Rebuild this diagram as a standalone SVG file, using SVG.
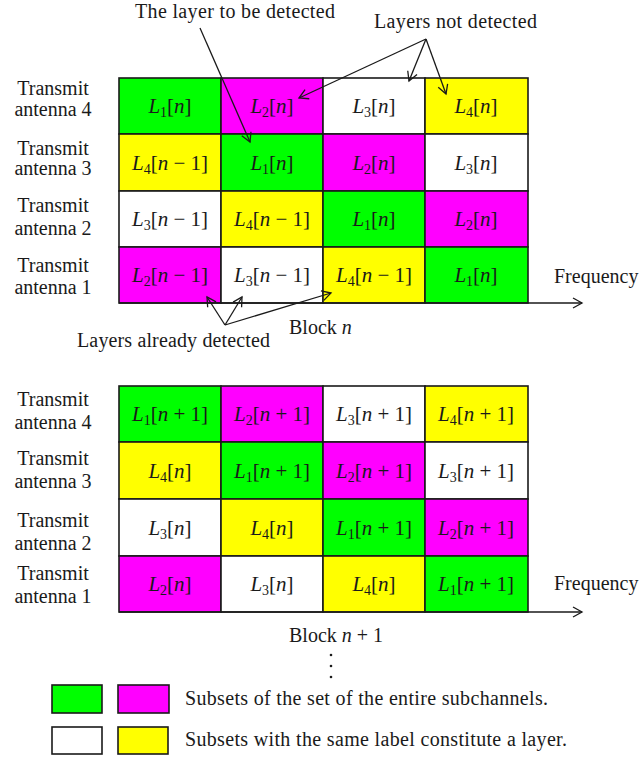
<svg xmlns="http://www.w3.org/2000/svg" width="643" height="759" viewBox="0 0 643 759">
<style>
text{font-family:"Liberation Serif","Times New Roman",serif;fill:#1a1a1a}
.lab{font-size:20px;text-anchor:middle}
.c{font-size:21px;text-anchor:middle}
.i{font-style:italic}
.s{font-size:14px}
.t{font-size:20px}
.g{fill:#00ff00}.m{fill:#ff00ff}.y{fill:#ffff00}.w{fill:#ffffff}
rect{stroke:#1a1a1a;stroke-width:1.6}
.ln{stroke:#1a1a1a;stroke-width:1.3;fill:none}
</style>
<defs>
<marker id="ah" markerUnits="userSpaceOnUse" markerWidth="14" markerHeight="14" refX="11" refY="7" orient="auto">
<path d="M2,2 L11,7 L2,12" fill="none" stroke="#1a1a1a" stroke-width="1.3"/>
</marker>
</defs>

<!-- Top block labels -->
<g id="labels-top">
<text class="lab" x="53" y="95">Transmit</text><text class="lab" x="53" y="116">antenna 4</text>
<text class="lab" x="53" y="155">Transmit</text><text class="lab" x="53" y="175">antenna 3</text>
<text class="lab" x="53" y="212">Transmit</text><text class="lab" x="53" y="235">antenna 2</text>
<text class="lab" x="53" y="272">Transmit</text><text class="lab" x="53" y="294">antenna 1</text>
</g>

<!-- Top grid, row antenna 4 -->
<g id="t-r4-c1"><rect class="g" x="119" y="78" width="102" height="56"/><text class="c" x="170" y="113"><tspan class="i">L</tspan><tspan class="s" dy="4">1</tspan><tspan dy="-4">[</tspan><tspan class="i">n</tspan>]</text></g>
<g id="t-r4-c2"><rect class="m" x="221" y="78" width="102" height="56"/><text class="c" x="272" y="113"><tspan class="i">L</tspan><tspan class="s" dy="4">2</tspan><tspan dy="-4">[</tspan><tspan class="i">n</tspan>]</text></g>
<g id="t-r4-c3"><rect class="w" x="323" y="78" width="102" height="56"/><text class="c" x="374" y="113"><tspan class="i">L</tspan><tspan class="s" dy="4">3</tspan><tspan dy="-4">[</tspan><tspan class="i">n</tspan>]</text></g>
<g id="t-r4-c4"><rect class="y" x="425" y="78" width="103" height="56"/><text class="c" x="476" y="113"><tspan class="i">L</tspan><tspan class="s" dy="4">4</tspan><tspan dy="-4">[</tspan><tspan class="i">n</tspan>]</text></g>
<!-- row antenna 3 -->
<g id="t-r3-c1"><rect class="y" x="119" y="134" width="102" height="57"/><text class="c" x="170" y="170"><tspan class="i">L</tspan><tspan class="s" dy="4">4</tspan><tspan dy="-4">[</tspan><tspan class="i">n</tspan> − 1]</text></g>
<g id="t-r3-c2"><rect class="g" x="221" y="134" width="102" height="57"/><text class="c" x="272" y="170"><tspan class="i">L</tspan><tspan class="s" dy="4">1</tspan><tspan dy="-4">[</tspan><tspan class="i">n</tspan>]</text></g>
<g id="t-r3-c3"><rect class="m" x="323" y="134" width="102" height="57"/><text class="c" x="374" y="170"><tspan class="i">L</tspan><tspan class="s" dy="4">2</tspan><tspan dy="-4">[</tspan><tspan class="i">n</tspan>]</text></g>
<g id="t-r3-c4"><rect class="w" x="425" y="134" width="103" height="57"/><text class="c" x="476" y="170"><tspan class="i">L</tspan><tspan class="s" dy="4">3</tspan><tspan dy="-4">[</tspan><tspan class="i">n</tspan>]</text></g>
<!-- row antenna 2 -->
<g id="t-r2-c1"><rect class="w" x="119" y="191" width="102" height="56"/><text class="c" x="170" y="226"><tspan class="i">L</tspan><tspan class="s" dy="4">3</tspan><tspan dy="-4">[</tspan><tspan class="i">n</tspan> − 1]</text></g>
<g id="t-r2-c2"><rect class="y" x="221" y="191" width="102" height="56"/><text class="c" x="272" y="226"><tspan class="i">L</tspan><tspan class="s" dy="4">4</tspan><tspan dy="-4">[</tspan><tspan class="i">n</tspan> − 1]</text></g>
<g id="t-r2-c3"><rect class="g" x="323" y="191" width="102" height="56"/><text class="c" x="374" y="226"><tspan class="i">L</tspan><tspan class="s" dy="4">1</tspan><tspan dy="-4">[</tspan><tspan class="i">n</tspan>]</text></g>
<g id="t-r2-c4"><rect class="m" x="425" y="191" width="103" height="56"/><text class="c" x="476" y="226"><tspan class="i">L</tspan><tspan class="s" dy="4">2</tspan><tspan dy="-4">[</tspan><tspan class="i">n</tspan>]</text></g>
<!-- row antenna 1 -->
<g id="t-r1-c1"><rect class="m" x="119" y="247" width="102" height="56"/><text class="c" x="170" y="282"><tspan class="i">L</tspan><tspan class="s" dy="4">2</tspan><tspan dy="-4">[</tspan><tspan class="i">n</tspan> − 1]</text></g>
<g id="t-r1-c2"><rect class="w" x="221" y="247" width="102" height="56"/><text class="c" x="272" y="282"><tspan class="i">L</tspan><tspan class="s" dy="4">3</tspan><tspan dy="-4">[</tspan><tspan class="i">n</tspan> − 1]</text></g>
<g id="t-r1-c3"><rect class="y" x="323" y="247" width="102" height="56"/><text class="c" x="374" y="282"><tspan class="i">L</tspan><tspan class="s" dy="4">4</tspan><tspan dy="-4">[</tspan><tspan class="i">n</tspan> − 1]</text></g>
<g id="t-r1-c4"><rect class="g" x="425" y="247" width="103" height="56"/><text class="c" x="476" y="282"><tspan class="i">L</tspan><tspan class="s" dy="4">1</tspan><tspan dy="-4">[</tspan><tspan class="i">n</tspan>]</text></g>

<!-- Bottom block labels -->
<g id="labels-bottom">
<text class="lab" x="53" y="406">Transmit</text><text class="lab" x="53" y="429">antenna 4</text>
<text class="lab" x="53" y="465">Transmit</text><text class="lab" x="53" y="488">antenna 3</text>
<text class="lab" x="53" y="527">Transmit</text><text class="lab" x="53" y="550">antenna 2</text>
<text class="lab" x="53" y="580">Transmit</text><text class="lab" x="53" y="603">antenna 1</text>
</g>

<!-- Bottom grid row antenna 4 -->
<g id="b-r4-c1"><rect class="g" x="119" y="386" width="102" height="56"/><text class="c" x="170" y="421"><tspan class="i">L</tspan><tspan class="s" dy="4">1</tspan><tspan dy="-4">[</tspan><tspan class="i">n</tspan> + 1]</text></g>
<g id="b-r4-c2"><rect class="m" x="221" y="386" width="102" height="56"/><text class="c" x="272" y="421"><tspan class="i">L</tspan><tspan class="s" dy="4">2</tspan><tspan dy="-4">[</tspan><tspan class="i">n</tspan> + 1]</text></g>
<g id="b-r4-c3"><rect class="w" x="323" y="386" width="102" height="56"/><text class="c" x="374" y="421"><tspan class="i">L</tspan><tspan class="s" dy="4">3</tspan><tspan dy="-4">[</tspan><tspan class="i">n</tspan> + 1]</text></g>
<g id="b-r4-c4"><rect class="y" x="425" y="386" width="103" height="56"/><text class="c" x="476" y="421"><tspan class="i">L</tspan><tspan class="s" dy="4">4</tspan><tspan dy="-4">[</tspan><tspan class="i">n</tspan> + 1]</text></g>
<!-- row antenna 3 -->
<g id="b-r3-c1"><rect class="y" x="119" y="442" width="102" height="57"/><text class="c" x="170" y="478"><tspan class="i">L</tspan><tspan class="s" dy="4">4</tspan><tspan dy="-4">[</tspan><tspan class="i">n</tspan>]</text></g>
<g id="b-r3-c2"><rect class="g" x="221" y="442" width="102" height="57"/><text class="c" x="272" y="478"><tspan class="i">L</tspan><tspan class="s" dy="4">1</tspan><tspan dy="-4">[</tspan><tspan class="i">n</tspan> + 1]</text></g>
<g id="b-r3-c3"><rect class="m" x="323" y="442" width="102" height="57"/><text class="c" x="374" y="478"><tspan class="i">L</tspan><tspan class="s" dy="4">2</tspan><tspan dy="-4">[</tspan><tspan class="i">n</tspan> + 1]</text></g>
<g id="b-r3-c4"><rect class="w" x="425" y="442" width="103" height="57"/><text class="c" x="476" y="478"><tspan class="i">L</tspan><tspan class="s" dy="4">3</tspan><tspan dy="-4">[</tspan><tspan class="i">n</tspan> + 1]</text></g>
<!-- row antenna 2 -->
<g id="b-r2-c1"><rect class="w" x="119" y="499" width="102" height="57"/><text class="c" x="170" y="535"><tspan class="i">L</tspan><tspan class="s" dy="4">3</tspan><tspan dy="-4">[</tspan><tspan class="i">n</tspan>]</text></g>
<g id="b-r2-c2"><rect class="y" x="221" y="499" width="102" height="57"/><text class="c" x="272" y="535"><tspan class="i">L</tspan><tspan class="s" dy="4">4</tspan><tspan dy="-4">[</tspan><tspan class="i">n</tspan>]</text></g>
<g id="b-r2-c3"><rect class="g" x="323" y="499" width="102" height="57"/><text class="c" x="374" y="535"><tspan class="i">L</tspan><tspan class="s" dy="4">1</tspan><tspan dy="-4">[</tspan><tspan class="i">n</tspan> + 1]</text></g>
<g id="b-r2-c4"><rect class="m" x="425" y="499" width="103" height="57"/><text class="c" x="476" y="535"><tspan class="i">L</tspan><tspan class="s" dy="4">2</tspan><tspan dy="-4">[</tspan><tspan class="i">n</tspan> + 1]</text></g>
<!-- row antenna 1 -->
<g id="b-r1-c1"><rect class="m" x="119" y="556" width="102" height="56"/><text class="c" x="170" y="591"><tspan class="i">L</tspan><tspan class="s" dy="4">2</tspan><tspan dy="-4">[</tspan><tspan class="i">n</tspan>]</text></g>
<g id="b-r1-c2"><rect class="w" x="221" y="556" width="102" height="56"/><text class="c" x="272" y="591"><tspan class="i">L</tspan><tspan class="s" dy="4">3</tspan><tspan dy="-4">[</tspan><tspan class="i">n</tspan>]</text></g>
<g id="b-r1-c3"><rect class="y" x="323" y="556" width="102" height="56"/><text class="c" x="374" y="591"><tspan class="i">L</tspan><tspan class="s" dy="4">4</tspan><tspan dy="-4">[</tspan><tspan class="i">n</tspan>]</text></g>
<g id="b-r1-c4"><rect class="g" x="425" y="556" width="103" height="56"/><text class="c" x="476" y="591"><tspan class="i">L</tspan><tspan class="s" dy="4">1</tspan><tspan dy="-4">[</tspan><tspan class="i">n</tspan> + 1]</text></g>

<!-- Connectors -->
<g id="connectors">
<line class="ln" x1="119" y1="303" x2="582" y2="303" marker-end="url(#ah)"/>
<line class="ln" x1="119" y1="612" x2="582" y2="612" marker-end="url(#ah)"/>
<line class="ln" x1="200" y1="28" x2="250" y2="142" marker-end="url(#ah)"/>
<line class="ln" x1="426" y1="39" x2="299" y2="98" marker-end="url(#ah)"/>
<line class="ln" x1="426" y1="39" x2="409" y2="81" marker-end="url(#ah)"/>
<line class="ln" x1="426" y1="39" x2="446" y2="94" marker-end="url(#ah)"/>
<line class="ln" x1="225" y1="325" x2="207" y2="297" marker-end="url(#ah)"/>
<line class="ln" x1="225" y1="325" x2="242" y2="297" marker-end="url(#ah)"/>
<line class="ln" x1="225" y1="325" x2="331" y2="293" marker-end="url(#ah)"/>
</g>

<!-- Annotations -->
<g id="annotations">
<text class="t" x="135" y="18" textLength="200">The layer to be detected</text>
<text class="t" x="374" y="28" textLength="163">Layers not detected</text>
<text class="t" x="77" y="347" textLength="193">Layers already detected</text>
<text class="t" x="554" y="283">Frequency</text>
<text class="t" x="554" y="590">Frequency</text>
<text class="t" x="289" y="334">Block <tspan class="i">n</tspan></text>
<text class="t" x="289" y="642">Block <tspan class="i">n</tspan> + 1</text>
<circle cx="331" cy="655" r="1.3" fill="#1a1a1a"/>
<circle cx="331" cy="666" r="1.3" fill="#1a1a1a"/>
<circle cx="331" cy="677" r="1.3" fill="#1a1a1a"/>
</g>

<!-- Legend -->
<g id="legend">
<rect class="g" x="52" y="685" width="50" height="28"/>
<rect class="m" x="118" y="685" width="51" height="28"/>
<rect class="w" x="52" y="727" width="50" height="27"/>
<rect class="y" x="118" y="727" width="50" height="27"/>
<text class="t" x="185" y="705" textLength="363">Subsets of the set of the entire subchannels.</text>
<text class="t" x="185" y="746" textLength="382">Subsets with the same label constitute a layer.</text>
</g>
</svg>
